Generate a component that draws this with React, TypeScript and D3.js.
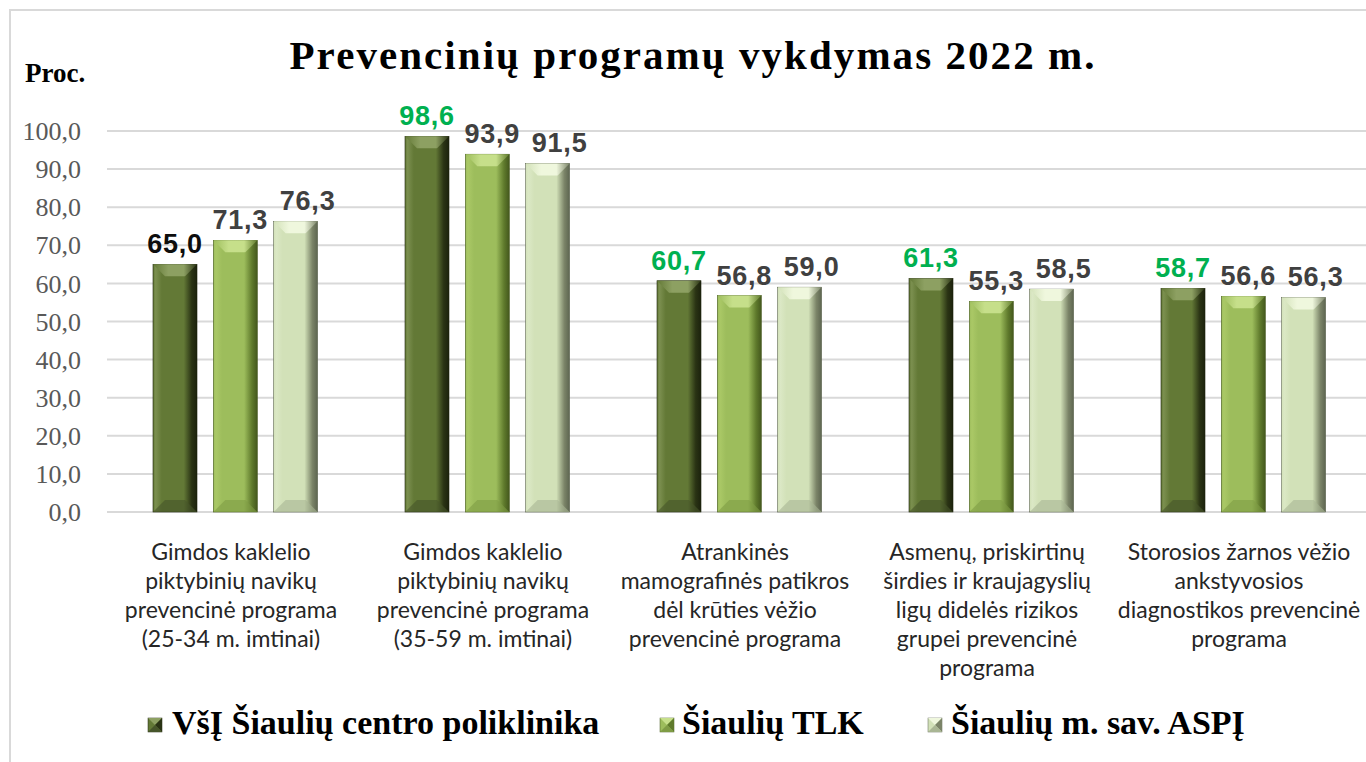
import React from "react";
import * as d3 from "d3";

const categoryLines: string[][] = [
  ["Gimdos kaklelio", "piktybinių navikų", "prevencinė programa", "(25-34 m. imtinai)"],
  ["Gimdos kaklelio", "piktybinių navikų", "prevencinė programa", "(35-59 m. imtinai)"],
  ["Atrankinės", "mamografinės patikros", "dėl krūties vėžio", "prevencinė programa"],
  ["Asmenų, priskirtinų", "širdies ir kraujagyslių", "ligų didelės rizikos", "grupei prevencinė", "programa"],
  ["Storosios žarnos vėžio", "ankstyvosios", "diagnostikos prevencinė", "programa"],
];
const seriesNames = ["VšĮ Šiaulių centro poliklinika", "Šiaulių TLK", "Šiaulių m. sav. ASPĮ"];
const poliklinika = [65.0, 98.6, 60.7, 61.3, 58.7];
const tlk = [71.3, 93.9, 56.8, 55.3, 56.6];
const aspi = [76.3, 91.5, 59.0, 58.5, 56.3];
const highlightFirst = [false, true, true, true, true];
const yTicks = [0, 10, 20, 30, 40, 50, 60, 70, 80, 90, 100];

const series = [poliklinika, tlk, aspi];

const W = 1366;
const H = 762;

const palette = [
  { face: "#637936", light: "#7b8f4f", dark: "#2a3314", edge: "#1c220d", top: "#8da062", bottom: "#46552a" },
  { face: "#9dbd5c", light: "#aac866", dark: "#5f7a2c", edge: "#44581d", top: "#c6df8a", bottom: "#7f9c45" },
  { face: "#d2e1b8", light: "#dbe8c5", dark: "#7b8468", edge: "#5d6550", top: "#eff7dd", bottom: "#a9b694" },
];

const fmt = (v: number) => d3.format(".1f")(v).replace(".", ",");

export default function App() {
  const x0 = d3.scaleBand<number>().domain(d3.range(categoryLines.length)).range([105, 1365]);
  const x1 = d3.scaleBand<number>().domain([0, 1, 2]).range([0, 168]).paddingInner(12 / 56).paddingOuter(0);
  const groupPad = (x0.bandwidth() - 156) / 2;
  const y = d3.scaleLinear().domain([0, 100]).range([512, 131]);
  const labelDx = [0, 5, 12];
  const bw = 44;
  const bev = 12;

  return (
    <svg width={W} height={H} style={{ position: "absolute", left: 0, top: 0, background: "#fff" }}>
      <defs>
        {palette.map((p, i) => (
          <linearGradient key={i} id={`g${i}`} x1="0" x2="1" y1="0" y2="0">
            <stop offset="0" stopColor={p.face} />
            <stop offset="0.06" stopColor={p.light} />
            <stop offset="0.2" stopColor={p.face} />
            <stop offset="0.7" stopColor={p.face} />
            <stop offset="0.88" stopColor={p.dark} />
            <stop offset="1" stopColor={p.edge} />
          </linearGradient>
        ))}
        {palette.map((p, i) => (
          <linearGradient key={`t${i}`} id={`t${i}`} x1="0" x2="1" y1="0" y2="0">
            <stop offset="0" stopColor={p.face} />
            <stop offset="0.35" stopColor={p.top} />
            <stop offset="0.7" stopColor={p.top} />
            <stop offset="1" stopColor={p.dark} />
          </linearGradient>
        ))}
      </defs>
      <rect x={10} y={10} width={1400} height={800} fill="none" stroke="#d9d9d9" strokeWidth={2} />

      <text x={692} y={69} textAnchor="middle" fontFamily="'Liberation Serif', serif" fontWeight="bold" fontSize={41} textLength={805} lengthAdjust="spacing" fill="#000">
        Prevencinių programų vykdymas 2022 m.
      </text>
      <text x={25} y={82} fontFamily="'Liberation Serif', serif" fontWeight="bold" fontSize={27} fill="#000">
        Proc.
      </text>

      {yTicks.map((t) => (
        <g key={t}>
          <line x1={107} x2={1366} y1={y(t)} y2={y(t)} stroke="#d9d9d9" strokeWidth={2} />
          <text x={81} y={y(t)} dy="0.35em" textAnchor="end" fontFamily="'Liberation Serif', serif" fontSize={26} fill="#595959">
            {fmt(t)}
          </text>
        </g>
      ))}

      {categoryLines.map((_, gi) =>
        series.map((vals, si) => {
          const bx = (x0(gi) as number) + groupPad + (x1(si) as number);
          const top = y(vals[gi]);
          const bottom = y(0);
          const p = palette[si];
          return (
            <g key={`${gi}-${si}`}>
              <rect x={bx} y={top} width={bw} height={bottom - top} fill={`url(#g${si})`} stroke={p.edge} strokeWidth={0.6} />
              <polygon
                points={`${bx},${top} ${bx + bw},${top} ${bx + bw - bev},${top + bev} ${bx + bev},${top + bev}`}
                fill={`url(#t${si})`}
              />
              <polygon
                points={`${bx},${bottom} ${bx + bw},${bottom} ${bx + bw - bev},${bottom - bev} ${bx + bev},${bottom - bev}`}
                fill={p.bottom}
                opacity={0.6}
              />
              <text
                x={bx + bw / 2 + labelDx[si]}
                y={top - 11}
                textAnchor="middle"
                fontFamily="'Liberation Sans', Arial, sans-serif"
                fontWeight="bold"
                fontSize={27}
                letterSpacing={0.8}
                fill={si === 0 ? (highlightFirst[gi] ? "#00b050" : "#0d0d0d") : "#404040"}
              >
                {fmt(vals[gi])}
              </text>
            </g>
          );
        })
      )}

      {categoryLines.map((lines, gi) => (
        <text key={gi} textAnchor="middle" fontFamily="Lato, 'Liberation Sans', sans-serif" fontSize={23} fill="#262626">
          {lines.map((l, li) => (
            <tspan key={li} x={(x0(gi) as number) + x0.bandwidth() / 2} y={560 + li * 29}>
              {l}
            </tspan>
          ))}
        </text>
      ))}

      {[
        { mx: 148, tx: 172 },
        { mx: 660, tx: 682 },
        { mx: 928, tx: 951 },
      ].map((pos, i) => {
        const p = palette[i];
        const s = 14;
        const my = 718;
        const cx = pos.mx + s / 2;
        const cy = my + s / 2;
        return (
          <g key={i}>
            <rect x={pos.mx} y={my} width={s} height={s} fill={p.face} stroke={p.edge} strokeWidth={0.5} />
            <polygon points={`${pos.mx},${my} ${pos.mx + s},${my} ${cx},${cy}`} fill={p.top} />
            <polygon points={`${pos.mx + s},${my} ${pos.mx + s},${my + s} ${cx},${cy}`} fill={p.dark} />
            <polygon points={`${pos.mx},${my + s} ${pos.mx + s},${my + s} ${cx},${cy}`} fill={p.bottom} />
            <text x={pos.tx} y={734} fontFamily="'Liberation Serif', serif" fontWeight="bold" fontSize={34} fill="#000">
              {seriesNames[i]}
            </text>
          </g>
        );
      })}
    </svg>
  );
}
